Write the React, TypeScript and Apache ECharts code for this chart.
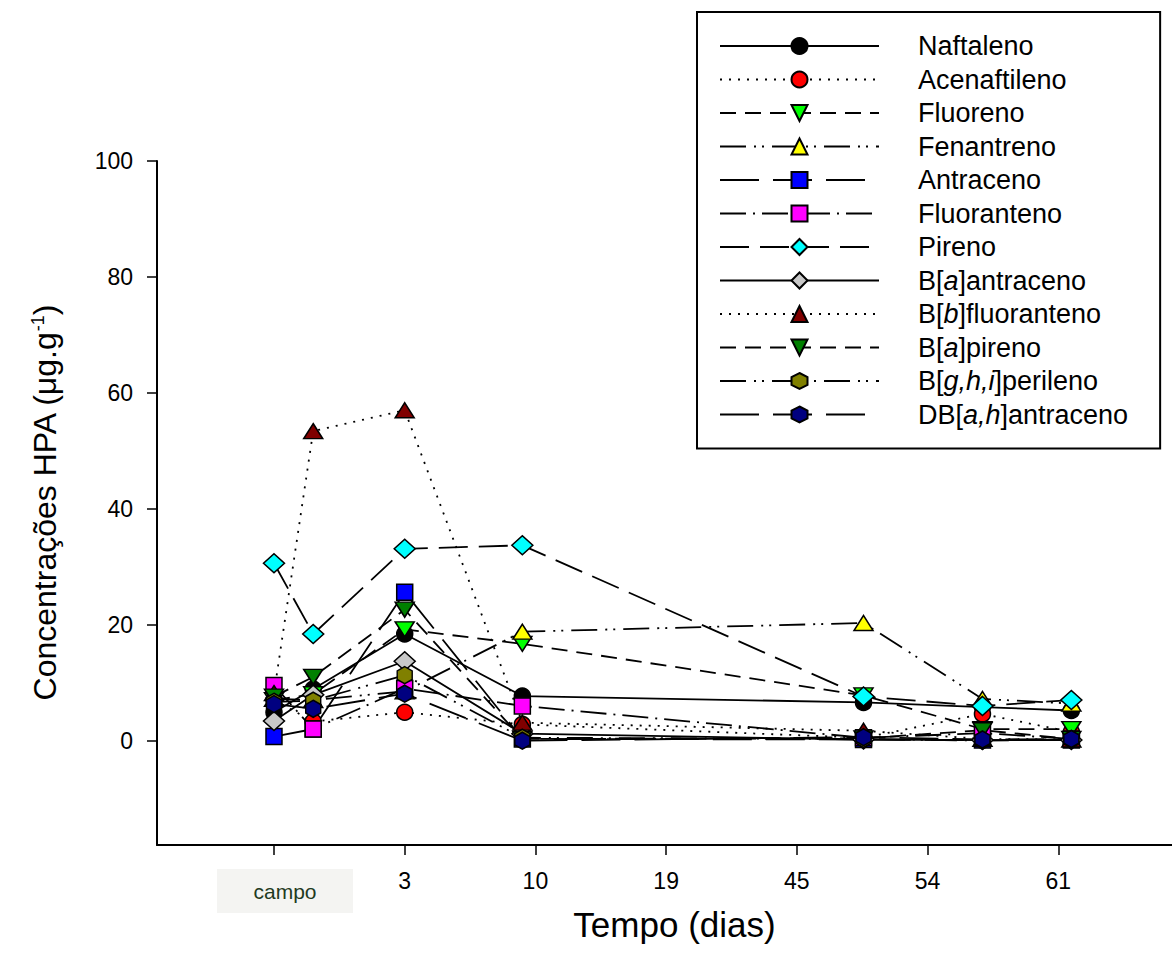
import React, { useEffect, useRef } from "react";
import * as echarts from "echarts";

// ---- data ----
const tickLabels = ["campo", "3", "10", "19", "45", "54", "61"];
const tickPositions = [0, 1, 2, 3, 4, 5, 6];
const yTicks = [0, 20, 40, 60, 80, 100];
// sampling positions (in tick units) of the measured points
const sampleX = [0, 0.3, 1, 1.9, 4.51, 5.42, 6.1];

const seriesNames = [
  "Naftaleno",
  "Acenaftileno",
  "Fluoreno",
  "Fenantreno",
  "Antraceno",
  "Fluoranteno",
  "Pireno",
  "B[a]antraceno",
  "B[b]fluoranteno",
  "B[a]pireno",
  "B[g,h,i]perileno",
  "DB[a,h]antraceno",
];

const naftaleno = [4.9, 8.9, 18.4, 7.7, 6.6, 5.8, 5.2];
const acenaftileno = [7.0, 3.3, 4.9, 2.8, 0.5, 4.6, 1.5];
const fluoreno = [7.0, 8.0, 19.2, 16.7, 7.8, 2.0, 2.0];
const fenantreno = [7.2, 7.0, 8.5, 18.8, 20.3, 7.2, 6.4];
const antraceno = [0.7, 2.0, 25.6, 0.3, 0.2, 0.1, 0.1];
const fluoranteno = [9.5, 2.0, 9.0, 6.0, 0.5, 1.3, 0.3];
const pireno = [30.6, 18.4, 33.1, 33.7, 7.6, 6.0, 7.0];
const baAntraceno = [3.4, 7.9, 13.7, 1.2, 0.2, 0.1, 0.1];
const bbFluoranteno = [8.2, 53.4, 57.0, 3.1, 1.7, 0.3, 0.2];
const baPireno = [7.6, 11.0, 22.6, 0.3, 0.4, 1.8, 0.3];
const bghiPerileno = [6.7, 6.9, 11.3, 0.5, 0.3, 0.0, 0.2];
const dbahAntraceno = [6.3, 5.5, 8.1, 0.0, 0.6, 0.2, 0.3];

const seriesValues = [
  naftaleno,
  acenaftileno,
  fluoreno,
  fenantreno,
  antraceno,
  fluoranteno,
  pireno,
  baAntraceno,
  bbFluoranteno,
  baPireno,
  bghiPerileno,
  dbahAntraceno,
];

// ---- styles ----
const DOWN_TRI = "path://M0,0L20,0L10,16Z";
const HEXAGON = "path://M8.66,0L17.32,5L17.32,15L8.66,20L0,15L0,5Z";
const SOLID: any = "solid";
const DOTTED = [2, 7];
const DASHED = [16, 9];
const DASH_DOT_DOT = [26, 8, 2, 6, 2, 8];
const LONG_DASH = [39, 14];
const DASH_DOT = [26, 7, 2, 7];
const MED_DASH = [29, 11];

const styles = [
  { symbol: "circle", size: 16, fill: "#000000", dash: SOLID },
  { symbol: "circle", size: 16, fill: "#ff0000", dash: DOTTED },
  { symbol: DOWN_TRI, size: [19, 15], fill: "#00ff00", dash: DASHED },
  { symbol: "triangle", size: [19, 15], fill: "#ffff00", dash: DASH_DOT_DOT },
  { symbol: "rect", size: 16, fill: "#0000ff", dash: LONG_DASH },
  { symbol: "rect", size: 16, fill: "#ff00ff", dash: DASH_DOT },
  { symbol: "diamond", size: [21, 19], fill: "#00ffff", dash: MED_DASH },
  { symbol: "diamond", size: [21, 19], fill: "#c8c8c8", dash: SOLID },
  { symbol: "triangle", size: [19, 15], fill: "#800000", dash: DOTTED },
  { symbol: DOWN_TRI, size: [19, 15], fill: "#008000", dash: DASHED },
  { symbol: HEXAGON, size: [15, 17], fill: "#808000", dash: DASH_DOT_DOT },
  { symbol: HEXAGON, size: [15, 17], fill: "#000080", dash: LONG_DASH },
];

const FONT = "'Liberation Sans', Arial, Helvetica, sans-serif";

const legendLabel = (name: string) => {
  const rich = name
    .replace("[a]", "[{i|a}]")
    .replace("[b]", "[{i|b}]")
    .replace("[g,h,i]", "[{i|g,h,i}]")
    .replace("[a,h]", "[{i|a,h}]");
  return "{sp| }" + rich;
};

export default function App() {
  const ref = useRef<HTMLDivElement>(null);

  useEffect(() => {
    if (!ref.current) return;
    const chart = echarts.init(ref.current, null, { renderer: "svg" });

    const series = seriesNames.map((name, i) => ({
      name,
      type: "line",
      data: seriesValues[i].map((v, j) => [sampleX[j], v]),
      symbol: styles[i].symbol,
      symbolSize: styles[i].size,
      showAllSymbol: true,
      lineStyle: { color: "#000", width: 1.8, type: styles[i].dash },
      itemStyle: { color: styles[i].fill, borderColor: "#000", borderWidth: 1.5 },
      emphasis: { disabled: true },
      z: 2,
    }));

    chart.setOption({
      animation: false,
      backgroundColor: "#ffffff",
      textStyle: { fontFamily: FONT },
      grid: { left: 157, top: 161, right: 0, bottom: 115 },
      legend: {
        show: true,
        orient: "vertical",
        left: 697,
        top: 12,
        itemWidth: 159,
        itemHeight: 20,
        itemGap: 6.5,
        padding: [20.5, 32, 20.5, 22],
        borderColor: "#000",
        borderWidth: 2,
        backgroundColor: "#fff",
        selectedMode: false,
        data: seriesNames,
        formatter: legendLabel,
        textStyle: {
          fontSize: 27,
          color: "#000",
          fontFamily: FONT,
          rich: {
            sp: { width: 34 },
            i: { fontStyle: "italic", fontSize: 27, fontFamily: FONT },
          },
        },
      },
      xAxis: {
        type: "value",
        min: -0.895,
        max: 6.87,
        name: "Tempo (dias)",
        nameLocation: "middle",
        nameGap: 62,
        nameMoveOverlap: false,
        nameTextStyle: {
          fontSize: 35,
          color: "#000",
          fontFamily: FONT,
          padding: [0, 0, 0, 20],
        },
        axisLine: { show: true, onZero: false, lineStyle: { color: "#000", width: 2 } },
        axisTick: {
          show: true,
          customValues: tickPositions,
          length: 10,
          lineStyle: { color: "#000", width: 1.5 },
        },
        axisLabel: {
          customValues: tickPositions,
          margin: 24,
          fontSize: 23,
          color: "#000",
          fontFamily: FONT,
          formatter: (v: number) => {
            const idx = Math.round(v);
            if (idx === 0) return "{sp| }{c|" + tickLabels[0] + "}";
            return tickLabels[idx] ?? "";
          },
          rich: {
            sp: { width: 22 },
            c: {
              width: 136,
              height: 44,
              align: "center",
              backgroundColor: "#f4f4f2",
              color: "#1f3b1f",
              fontSize: 21,
              fontFamily: FONT,
            },
          },
        },
        splitLine: { show: false },
      },
      yAxis: {
        type: "value",
        min: -18,
        max: 100,
        name: "{a|Concentrações HPA (μg.g}{s|-1}{a|)}",
        nameLocation: "middle",
        nameGap: 96,
        nameMoveOverlap: false,
        nameTextStyle: {
          fontSize: 32,
          color: "#000",
          fontFamily: FONT,
          rich: {
            a: { fontSize: 32, color: "#000", fontFamily: FONT },
            s: { fontSize: 18, color: "#000", fontFamily: FONT, verticalAlign: "top" },
          },
        },
        axisLine: { show: true, onZero: false, lineStyle: { color: "#000", width: 2 } },
        axisTick: {
          show: true,
          customValues: yTicks,
          length: 10,
          lineStyle: { color: "#000", width: 1.5 },
        },
        axisLabel: {
          customValues: yTicks,
          margin: 24,
          fontSize: 23,
          color: "#000",
          fontFamily: FONT,
        },
        splitLine: { show: false },
      },
      series,
    });

    return () => chart.dispose();
  }, []);

  return (
    <div
      ref={ref}
      style={{ position: "absolute", left: 0, top: 0, width: 1172, height: 960, background: "#fff" }}
    />
  );
}
